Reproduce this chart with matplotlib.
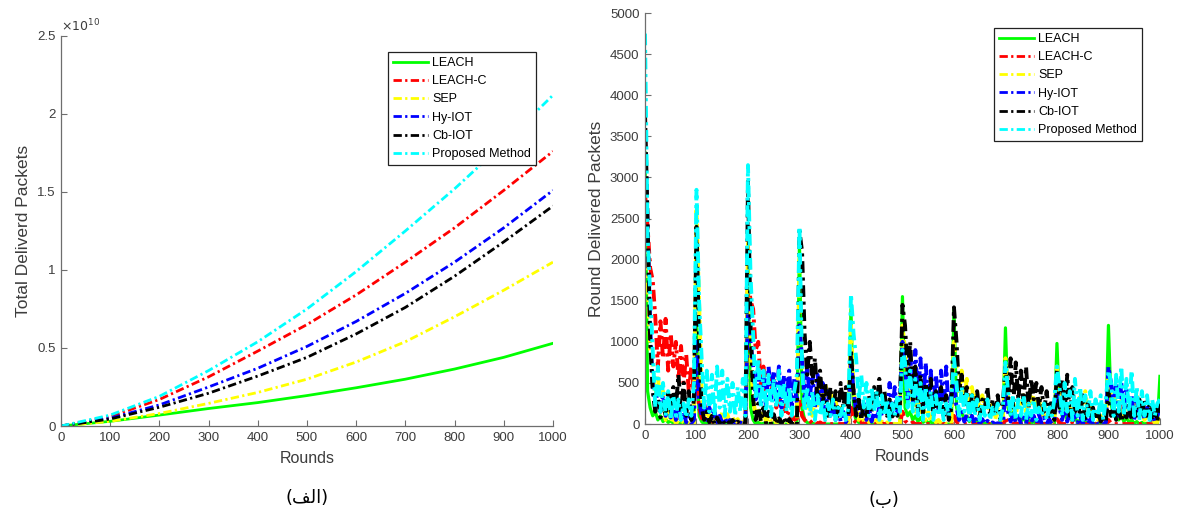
import numpy as np
import matplotlib.pyplot as plt
from matplotlib.ticker import FuncFormatter

plt.rcParams['font.family'] = ['Liberation Sans', 'DejaVu Sans']

methods = ['LEACH', 'LEACH-C', 'SEP', 'Hy-IOT', 'Cb-IOT', 'Proposed Method']
colors = ['#00ff00', '#ff0000', '#ffff00', '#0000ff', '#000000', '#00ffff']

# total delivered packets, sampled every 100 rounds
rounds_total = [0, 100, 200, 300, 400, 500, 600, 700, 800, 900, 1000]
total_leach = [0, 0.03e10, 0.07e10, 0.112e10, 0.15e10, 0.195e10, 0.245e10, 0.30e10, 0.365e10, 0.44e10, 0.53e10]
total_leach_c = [0, 0.06e10, 0.17e10, 0.315e10, 0.48e10, 0.65e10, 0.84e10, 1.05e10, 1.27e10, 1.51e10, 1.76e10]
total_sep = [0, 0.03e10, 0.08e10, 0.145e10, 0.215e10, 0.30e10, 0.41e10, 0.54e10, 0.70e10, 0.87e10, 1.05e10]
total_hy = [0, 0.05e10, 0.135e10, 0.25e10, 0.37e10, 0.51e10, 0.67e10, 0.85e10, 1.05e10, 1.27e10, 1.51e10]
total_cb = [0, 0.045e10, 0.12e10, 0.21e10, 0.32e10, 0.44e10, 0.59e10, 0.76e10, 0.96e10, 1.18e10, 1.41e10]
total_prop = [0, 0.07e10, 0.19e10, 0.355e10, 0.54e10, 0.75e10, 0.99e10, 1.25e10, 1.52e10, 1.81e10, 2.12e10]

# delivered packets per round, sampled every 5 rounds (one row = 100 rounds)
round_leach = [
    3300, 400, 200, 100, 150, 50, 100, 30, 60, 20, 40, 10, 30, 0, 20, 0, 10, 0, 10, 0,
    1200, 100, 30, 0, 20, 0, 10, 0, 0, 10, 0, 0, 10, 0, 0, 0, 0, 0, 0, 0,
    2000, 200, 50, 0, 20, 0, 10, 0, 0, 0, 10, 0, 0, 0, 0, 0, 0, 0, 0, 0,
    2200, 200, 50, 20, 0, 10, 0, 0, 10, 0, 0, 0, 0, 0, 0, 0, 0, 0, 0, 0,
    1400, 150, 50, 20, 0, 10, 0, 0, 0, 0, 0, 0, 0, 0, 0, 0, 0, 0, 0, 0,
    1550, 200, 100, 150, 50, 100, 30, 80, 20, 50, 10, 30, 0, 20, 0, 10, 0, 0, 0, 0,
    1400, 200, 100, 150, 50, 100, 30, 80, 20, 50, 10, 30, 0, 20, 0, 10, 0, 0, 0, 0,
    1170, 200, 100, 150, 50, 100, 30, 80, 20, 50, 10, 30, 0, 20, 0, 10, 0, 0, 0, 0,
    980, 200, 100, 150, 50, 100, 30, 80, 20, 50, 10, 30, 0, 20, 0, 10, 0, 0, 0, 0,
    1200, 250, 100, 150, 50, 100, 30, 80, 20, 50, 10, 30, 0, 20, 0, 10, 0, 0, 0, 0,
    580]
round_leach_c = [
    2800, 2400, 1900, 1750, 1300, 700, 1250, 800, 1280, 650, 1100, 700, 1000, 550, 950, 500, 850, 400, 700, 350,
    600, 200, 80, 30, 60, 10, 40, 0, 20, 0, 30, 0, 10, 0, 20, 0, 10, 0, 0, 0,
    1800, 1500, 1400, 900, 1000, 450, 700, 400, 650, 350, 600, 200, 400, 150, 250, 100, 150, 50, 80, 20,
    300, 100, 50, 20, 40, 10, 30, 0, 20, 0, 10, 0, 0, 0, 10, 0, 0, 0, 0, 0,
    200, 50, 20, 0, 30, 0, 10, 0, 20, 0, 0, 0, 10, 0, 0, 0, 0, 0, 0, 0,
    150, 40, 10, 0, 20, 0, 0, 0, 10, 0, 0, 0, 0, 0, 0, 0, 0, 0, 0, 0,
    100, 30, 0, 10, 0, 0, 0, 10, 0, 0, 0, 0, 0, 0, 0, 0, 0, 0, 0, 0,
    80, 20, 0, 0, 10, 0, 0, 0, 0, 0, 0, 0, 0, 0, 0, 0, 0, 0, 0, 0,
    60, 20, 0, 0, 0, 0, 10, 0, 0, 0, 0, 0, 0, 0, 0, 0, 0, 0, 0, 0,
    50, 10, 0, 0, 0, 0, 0, 0, 0, 0, 0, 0, 0, 0, 0, 0, 0, 0, 0, 0,
    0]
round_sep = [
    2600, 1800, 900, 700, 300, 600, 150, 400, 50, 200, 20, 100, 0, 50, 0, 20, 0, 10, 0, 0,
    2600, 1500, 400, 100, 200, 50, 150, 20, 100, 0, 150, 30, 120, 0, 80, 20, 60, 0, 30, 0,
    2200, 900, 300, 100, 200, 50, 150, 30, 100, 20, 80, 10, 50, 0, 30, 0, 20, 0, 0, 0,
    2000, 700, 300, 150, 250, 100, 300, 200, 450, 250, 500, 300, 400, 200, 300, 100, 200, 50, 100, 20,
    1200, 400, 200, 50, 150, 30, 100, 20, 80, 0, 50, 0, 30, 0, 20, 0, 10, 0, 0, 0,
    1200, 900, 500, 300, 400, 150, 300, 100, 200, 50, 150, 30, 100, 20, 50, 0, 30, 0, 10, 0,
    1000, 700, 400, 650, 300, 550, 250, 450, 200, 400, 150, 350, 200, 300, 100, 250, 50, 200, 30, 80,
    800, 300, 150, 250, 100, 300, 200, 350, 150, 400, 250, 350, 150, 300, 100, 250, 50, 150, 20, 60,
    700, 300, 150, 250, 100, 200, 150, 300, 200, 350, 250, 400, 150, 250, 100, 150, 50, 100, 20, 40,
    600, 300, 200, 350, 150, 300, 100, 250, 150, 200, 100, 350, 80, 150, 50, 100, 30, 80, 10, 20,
    200]
round_hy = [
    3500, 2400, 1200, 500, 200, 450, 150, 350, 100, 300, 80, 250, 50, 200, 30, 150, 20, 100, 10, 50,
    1000, 300, 100, 250, 50, 200, 30, 150, 20, 100, 10, 80, 0, 50, 0, 30, 0, 20, 0, 10,
    1500, 1000, 700, 300, 650, 250, 600, 200, 700, 300, 650, 250, 700, 200, 600, 300, 650, 200, 550, 250,
    1200, 800, 250, 700, 300, 650, 200, 600, 250, 500, 150, 400, 100, 300, 50, 200, 30, 150, 20, 80,
    800, 400, 150, 300, 100, 250, 50, 200, 30, 150, 50, 200, 100, 300, 150, 500, 150, 450, 100, 300,
    1000, 700, 300, 850, 250, 900, 300, 800, 200, 750, 250, 650, 200, 600, 150, 650, 200, 700, 100, 400,
    500, 200, 50, 150, 30, 120, 20, 100, 0, 80, 0, 60, 0, 40, 0, 20, 0, 10, 0, 0,
    400, 150, 30, 120, 20, 100, 10, 80, 0, 150, 20, 100, 0, 120, 10, 80, 0, 60, 0, 30,
    400, 200, 50, 180, 30, 150, 20, 120, 10, 100, 0, 80, 0, 60, 0, 40, 0, 30, 0, 20,
    700, 500, 150, 550, 100, 500, 150, 450, 100, 350, 50, 300, 80, 250, 50, 200, 30, 150, 20, 100,
    200]
round_cb = [
    3800, 2500, 1000, 400, 150, 300, 80, 250, 100, 400, 150, 450, 200, 600, 150, 500, 100, 400, 50, 300,
    2400, 1000, 200, 50, 150, 20, 100, 0, 80, 10, 60, 0, 40, 0, 50, 0, 30, 0, 20, 0,
    2950, 1200, 300, 50, 250, 30, 200, 10, 150, 0, 120, 0, 100, 0, 80, 0, 60, 0, 40, 0,
    2350, 2100, 1100, 600, 1000, 500, 800, 300, 650, 250, 500, 100, 450, 150, 400, 100, 500, 200, 450, 100,
    900, 400, 100, 300, 50, 250, 100, 350, 150, 450, 200, 550, 150, 400, 100, 300, 50, 250, 100, 200,
    1450, 1200, 600, 1000, 300, 700, 150, 600, 100, 500, 200, 550, 100, 400, 200, 450, 100, 350, 50, 200,
    1420, 1000, 400, 600, 200, 450, 100, 350, 150, 400, 100, 300, 200, 450, 100, 300, 150, 350, 50, 250,
    700, 300, 800, 200, 750, 300, 650, 250, 700, 200, 550, 300, 500, 200, 450, 150, 400, 100, 300, 50,
    650, 200, 550, 150, 600, 100, 450, 150, 300, 100, 350, 50, 250, 100, 200, 50, 150, 30, 100, 20,
    400, 100, 250, 50, 200, 30, 150, 80, 250, 50, 200, 100, 300, 80, 300, 100, 250, 50, 200, 30,
    250]
round_prop = [
    4750, 2300, 1600, 900, 200, 700, 150, 500, 100, 400, 50, 350, 100, 300, 50, 250, 80, 300, 100, 500,
    2850, 1500, 800, 200, 650, 150, 600, 100, 700, 200, 650, 100, 550, 150, 500, 100, 450, 150, 550, 100,
    3150, 1800, 1100, 300, 800, 200, 650, 150, 600, 100, 550, 200, 650, 100, 500, 150, 450, 100, 400, 600,
    2400, 700, 150, 450, 100, 400, 50, 350, 100, 300, 50, 250, 100, 300, 50, 200, 100, 250, 50, 200,
    1580, 1100, 800, 300, 600, 200, 500, 100, 450, 150, 400, 50, 350, 100, 300, 50, 250, 100, 350, 150,
    900, 750, 200, 650, 150, 550, 100, 500, 50, 450, 100, 400, 50, 350, 100, 300, 50, 250, 100, 300,
    800, 500, 100, 450, 150, 400, 50, 350, 100, 300, 50, 250, 100, 300, 50, 200, 100, 250, 50, 200,
    750, 400, 100, 350, 50, 300, 100, 350, 50, 250, 100, 300, 50, 200, 100, 250, 50, 200, 100, 300,
    700, 450, 100, 500, 150, 400, 50, 550, 100, 450, 50, 350, 100, 400, 50, 300, 100, 350, 50, 300,
    650, 500, 100, 600, 150, 700, 100, 550, 150, 650, 100, 450, 50, 400, 100, 350, 50, 300, 100, 250,
    300]
rounds = np.arange(0, 1001, 5)

totals = [total_leach, total_leach_c, total_sep, total_hy, total_cb, total_prop]
per_round = [round_leach, round_leach_c, round_sep, round_hy, round_cb, round_prop]

axis_grey = '#6e6e6e'
text_grey = '#3c3c3c'
dashdot = (3, 1.2, 0.8, 1.2)


def style_axes(ax):
    for side in ['top', 'right']:
        ax.spines[side].set_visible(False)
    for side in ['left', 'bottom']:
        ax.spines[side].set_color(axis_grey)
        ax.spines[side].set_linewidth(0.9)
    ax.tick_params(direction='in', length=4, width=0.8, color=axis_grey,
                   labelcolor=text_grey, labelsize=9.5, pad=4)
    ax.set_xlim(0, 1000)
    ax.set_xticks(range(0, 1001, 100))
    ax.set_xlabel('Rounds', fontsize=11.5, color=text_grey, labelpad=5)


fig = plt.figure(figsize=(11.77, 5.14), dpi=100)

# (a) total delivered packets
ax1 = fig.add_axes([0.0518, 0.1712, 0.418, 0.759])
for vals, name, c in zip(totals, methods, colors):
    if name == 'LEACH':
        ax1.plot(rounds_total, vals, '-', color=c, lw=2, label=name)
    else:
        ax1.plot(rounds_total, vals, color=c, lw=2, dashes=dashdot, label=name)
style_axes(ax1)
ax1.set_ylim(0, 2.5e10)
ax1.set_yticks([0, 0.5e10, 1e10, 1.5e10, 2e10, 2.5e10])
ax1.yaxis.set_major_formatter(FuncFormatter(lambda v, p: '%g' % (v / 1e10)))
ax1.text(0.0, 1.005, r'$\times 10^{10}$', transform=ax1.transAxes, fontsize=9,
         color=text_grey, ha='left', va='bottom')
ax1.set_ylabel('Total Deliverd Packets', fontsize=12.5, color=text_grey, labelpad=4)
leg1 = ax1.legend(loc='upper right', bbox_to_anchor=(536 / 1177, 1 - 52 / 514),
                  bbox_transform=fig.transFigure, borderaxespad=0, fontsize=9,
                  fancybox=False, framealpha=1, edgecolor='#222222',
                  handlelength=2.8, handletextpad=0.3, borderpad=0.4, labelspacing=0.5)
leg1.get_frame().set_linewidth(0.9)

# (b) delivered packets per round
ax2 = fig.add_axes([0.548, 0.175, 0.4375, 0.7996])
for vals, name, c in zip(per_round, methods, colors):
    if name == 'LEACH':
        ax2.plot(rounds, vals, '-', color=c, lw=2.3, label=name)
    else:
        ax2.plot(rounds, vals, color=c, lw=2.8, dashes=dashdot, label=name)
style_axes(ax2)
ax2.set_ylim(0, 5000)
ax2.set_yticks(range(0, 5001, 500))
ax2.set_ylabel('Round Delivered Packets', fontsize=12.5, color=text_grey, labelpad=4)
leg2 = ax2.legend(loc='upper right', bbox_to_anchor=(1142 / 1177, 1 - 28 / 514),
                  bbox_transform=fig.transFigure, borderaxespad=0, fontsize=9,
                  fancybox=False, framealpha=1, edgecolor='#222222',
                  handlelength=2.8, handletextpad=0.3, borderpad=0.4, labelspacing=0.5)
leg2.get_frame().set_linewidth(0.9)
for line in leg2.get_lines():
    line.set_linewidth(2)

# captions (Arabic letters given in their joined presentation forms)
fig.text(307 / 1177, 1 - 498 / 514, '(\uFED2\uFEDF\uFE8D)', fontsize=13,
         family='DejaVu Sans', ha='center', va='center')
fig.text(884 / 1177, 1 - 500 / 514, '(\uFE8F)', fontsize=13,
         family='DejaVu Sans', ha='center', va='center')

fig.savefig('out.png', dpi=100)
